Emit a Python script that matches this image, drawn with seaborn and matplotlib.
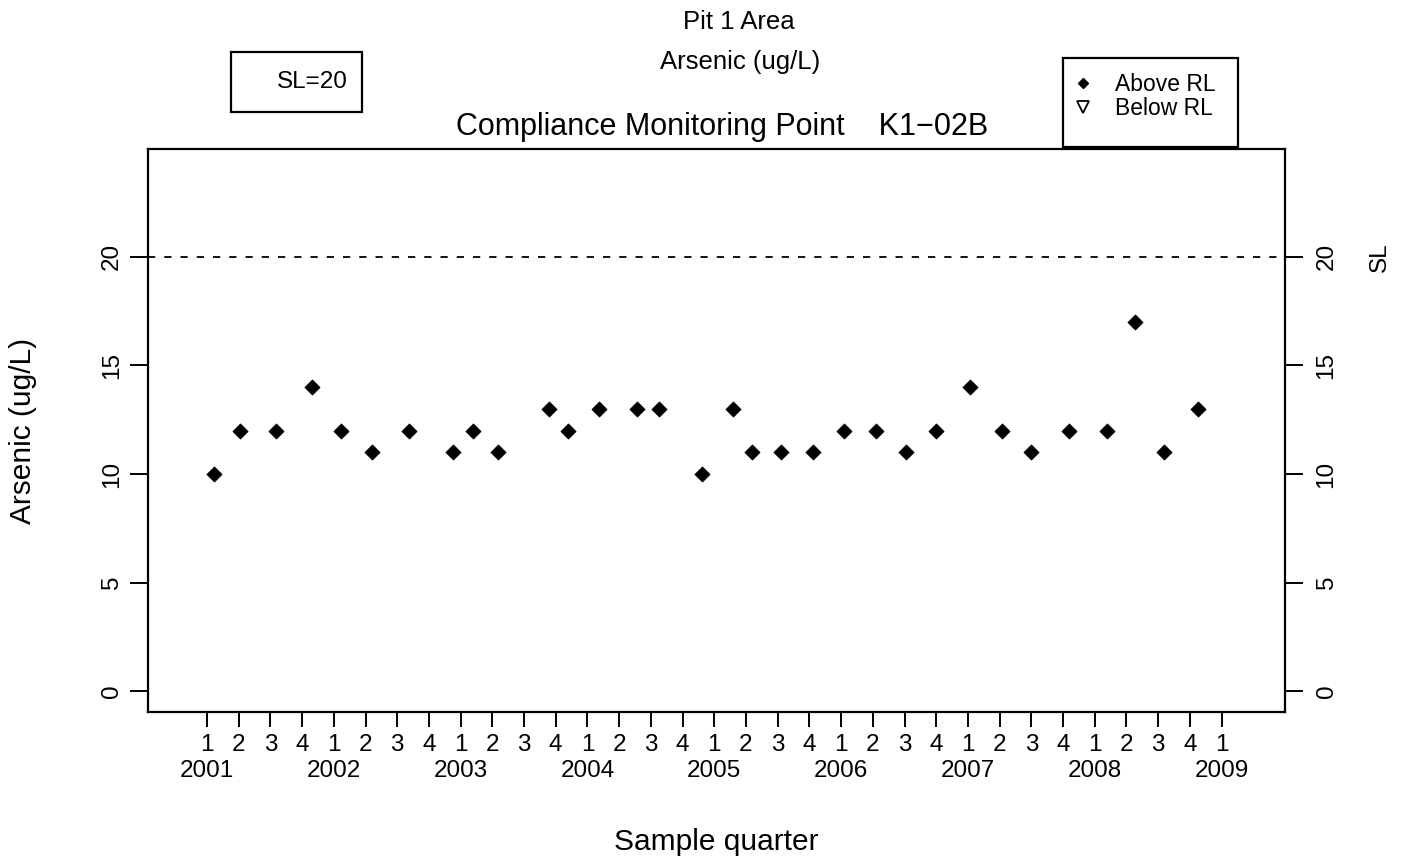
import numpy as np
import pandas as pd
import matplotlib
matplotlib.use("Agg")
import matplotlib.pyplot as plt
import matplotlib.transforms as mtransforms
from matplotlib.lines import Line2D
from matplotlib.patches import Rectangle
import seaborn as sns

# ---------------- data ----------------
sample_dates = [
    "2001-01-21", "2001-04-05", "2001-07-18", "2001-10-30",
    "2002-01-22", "2002-04-20", "2002-08-05", "2002-12-11",
    "2003-02-06", "2003-04-18", "2003-09-10", "2003-11-07",
    "2004-02-02", "2004-05-21", "2004-07-24", "2004-11-25",
    "2005-02-24", "2005-04-19", "2005-07-10", "2005-10-10",
    "2006-01-10", "2006-04-10", "2006-07-05", "2006-10-01",
    "2007-01-07", "2007-04-08", "2007-07-01", "2007-10-19",
    "2008-02-06", "2008-04-25", "2008-07-19", "2008-10-26",
]
arsenic = [10, 12, 12, 14, 12, 11, 12, 11,
           12, 11, 13, 12, 13, 13, 13, 10,
           13, 11, 11, 11, 12, 12, 11, 12,
           14, 12, 11, 12, 12, 17, 11, 13]
detect = ["Above RL"] * len(arsenic)

first_year = 2001
quarter_labels = ["1", "2", "3", "4"]
years = [str(y) for y in range(2001, 2010)]
n_quarters = 33          # 2001 Q1 ... 2009 Q1
SL = 20
title_lines = ["Pit 1 Area", "Arsenic (ug/L)"]
subtitle = "Compliance Monitoring Point    K1\u221202B"
y_label = "Arsenic (ug/L)"
x_label = "Sample quarter"
legend_labels = ["Above RL", "Below RL"]


def quarter_position(d):
    d = pd.Timestamp(d)
    q = (d.month - 1) // 3
    start = pd.Timestamp(year=d.year, month=3 * q + 1, day=1)
    end = start + pd.DateOffset(months=3)
    frac = (d - start).days / (end - start).days
    return (d.year - first_year) * 4 + q + frac


df = pd.DataFrame({
    "date": pd.to_datetime(sample_dates),
    "arsenic": arsenic,
    "detect": detect,
})
df["qpos"] = [quarter_position(d) for d in sample_dates]

# ---------------- style ----------------
sns.set_theme(style="white")
plt.rcParams["font.family"] = ["Liberation Sans", "DejaVu Sans"]
for k in ["text.color", "axes.labelcolor", "xtick.color", "ytick.color",
          "axes.edgecolor"]:
    plt.rcParams[k] = "black"
FS = 17.5
FS_LAB = 21.5
FS_TITLE = 18.5
FS_SUB = 22
FS_LEG = 16.5

W, H = 1412, 864
fig = plt.figure(figsize=(W / 100, H / 100), dpi=100)
ax_l, ax_r, ax_t, ax_b = 148, 1285, 149, 712
AH = ax_b - ax_t
AW = ax_r - ax_l
ax = fig.add_axes([ax_l / W, 1 - ax_b / H, AW / W, AH / H])

sns.scatterplot(data=df, x="qpos", y="arsenic", marker="D", s=60,
                color="black", edgecolor="black", linewidth=0.5,
                legend=False, ax=ax)

ax.axhline(SL, color="black", lw=1.3, ls=(0, (4, 5)))

ax.set_xlim(-1.86, 34.0)
ax.set_ylim(-0.96, 24.96)

for sp in ax.spines.values():
    sp.set_visible(True)
    sp.set_color("black")
    sp.set_linewidth(1.6)

# x ticks (quarters + years)
qticks = np.arange(n_quarters)
qlabels = []
for i in qticks:
    lab = quarter_labels[i % 4]
    if i % 4 == 0:
        lab = lab + "\n" + years[i // 4]
    qlabels.append(lab)
ax.set_xticks(qticks)
ax.set_xticklabels(qlabels, fontsize=FS, linespacing=1.2)
ax.tick_params(axis="x", direction="out", length=11, width=1.4,
               pad=5, bottom=True, colors="black")

# left y ticks
yt = [0, 5, 10, 15, 20]
ax.set_yticks(yt)
ax.set_yticklabels([str(v) for v in yt], fontsize=FS)
ax.tick_params(axis="y", direction="out", length=13, width=1.4,
               pad=5, left=True, colors="black")
for lab in ax.get_yticklabels():
    lab.set_rotation(90)
    lab.set_va("center")

# right axis
axr = ax.twinx()
axr.set_ylim(ax.get_ylim())
axr.set_yticks(yt)
axr.set_yticklabels([str(v) for v in yt], fontsize=FS)
axr.tick_params(axis="y", direction="out", length=13, width=1.4,
                pad=9, right=True, colors="black")
for lab in axr.get_yticklabels():
    lab.set_rotation(90)
    lab.set_va("center")
for sp in axr.spines.values():
    sp.set_visible(False)
axr.grid(False)
blend = mtransforms.blended_transform_factory(ax.transAxes, ax.transData)
ax.text((1380 - ax_l) / AW, SL, "SL", transform=blend,
        rotation=90, ha="center", va="center", fontsize=FS)

# axis labels
ax.set_xlabel(x_label, fontsize=FS_LAB)
ax.xaxis.set_label_coords(0.5, (ax_b - 842) / AH)
ax.xaxis.label.set_va("center")
ax.set_ylabel(y_label, fontsize=FS_LAB)
ax.yaxis.set_label_coords((23 - ax_l) / AW, 0.5)
ax.yaxis.label.set_va("center")

# titles
ax.text((739 - ax_l) / AW, (ax_b - 22) / AH, title_lines[0],
        transform=ax.transAxes, ha="center", va="center", fontsize=FS_TITLE)
ax.text((740 - ax_l) / AW, (ax_b - 62) / AH, title_lines[1],
        transform=ax.transAxes, ha="center", va="center", fontsize=FS_TITLE)
ax.text((722 - ax_l) / AW, (ax_b - 127) / AH, subtitle,
        transform=ax.transAxes, ha="center", va="center", fontsize=FS_SUB)


def fig_box(x0, y0, x1, y1):
    """Frame in pixel coords measured from the top-left corner."""
    fig.patches.append(Rectangle((x0 / W, 1 - y1 / H), (x1 - x0) / W,
                                 (y1 - y0) / H, transform=fig.transFigure,
                                 fill=False, edgecolor="black", lw=1.6))


# SL box
fig_box(231, 52, 362, 112)
fig.text(277 / W, 1 - 82 / H, f"SL={SL}", ha="left", va="center",
         fontsize=FS)

# detection legend
fig_box(1063, 58, 1238, 147)
h_above = Line2D([], [], ls="none", marker="D", color="black", markersize=5.5)
h_below = Line2D([], [], ls="none", marker="v", markerfacecolor="white",
                 markeredgecolor="black", markersize=9, markeredgewidth=1.3)
leg2 = fig.legend([h_above, h_below], legend_labels, loc="upper left",
                  bbox_to_anchor=(1066 / W, 1 - 66 / H), frameon=False,
                  fontsize=FS_LEG, borderpad=0.3, handlelength=0.9,
                  handletextpad=0.95, labelspacing=0.05, borderaxespad=0)

fig.savefig("out.png", dpi=100, facecolor="white")
